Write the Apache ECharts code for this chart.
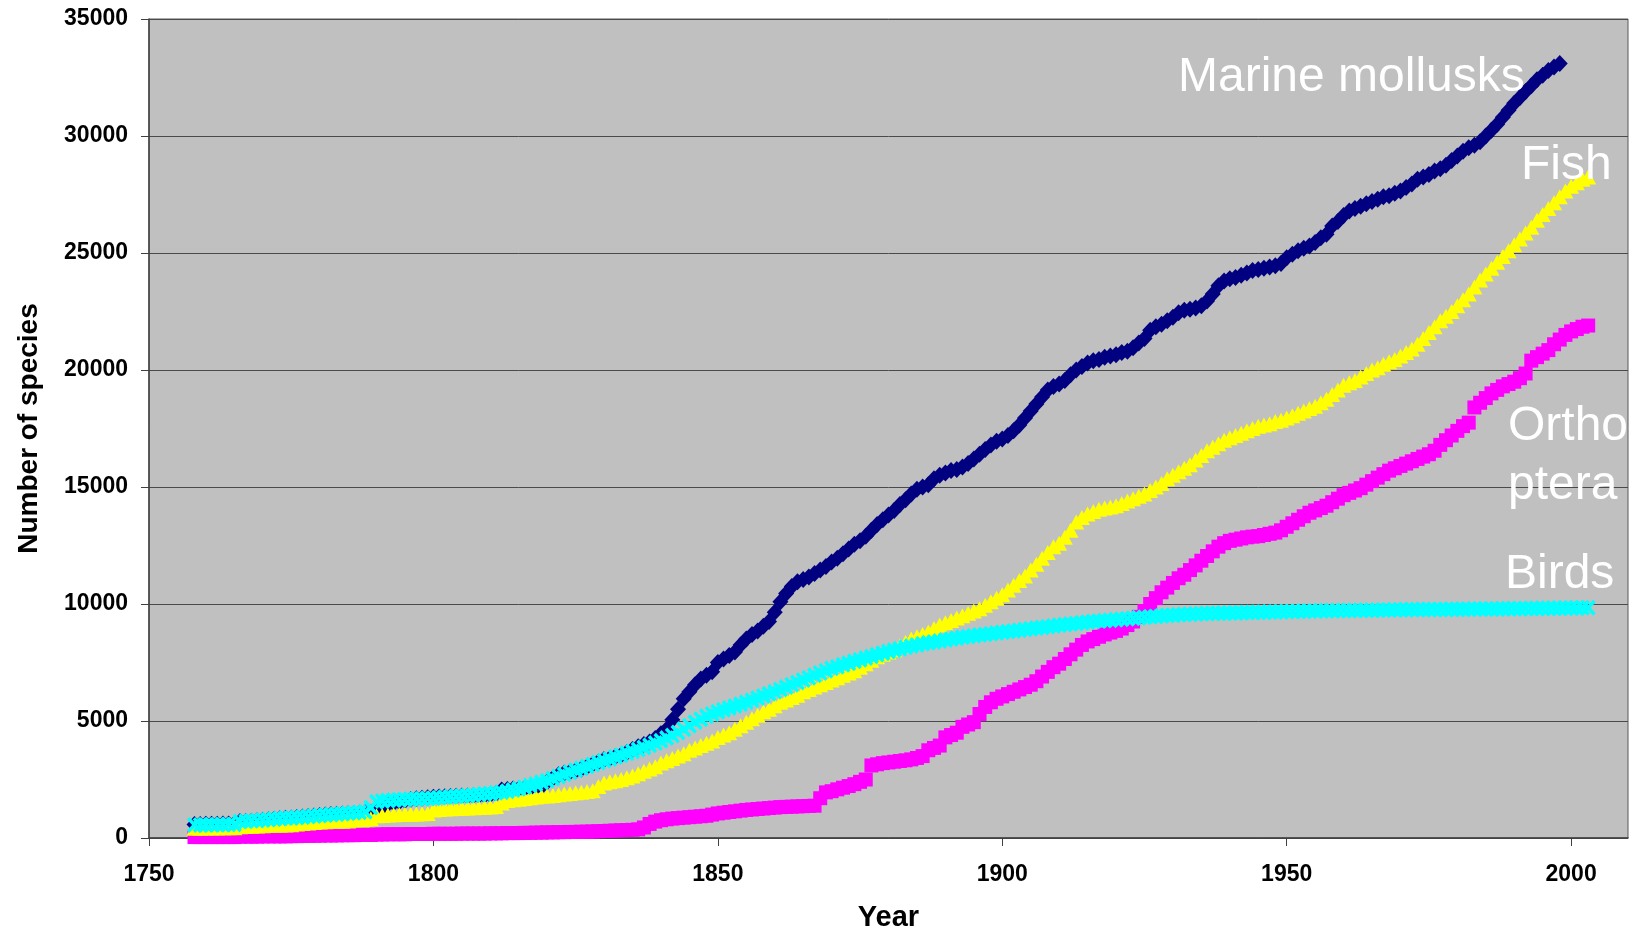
<!DOCTYPE html>
<html>
<head>
<meta charset="utf-8">
<title>Number of species described per year</title>
<script src="https://cdn.jsdelivr.net/npm/echarts@6/dist/echarts.min.js"></script>
<style>
  html, body { margin: 0; padding: 0; background: #ffffff; }
  #chart { width: 1632px; height: 934px; }
</style>
</head>
<body>
<div id="chart"></div>
<script>
// Cumulative number of described species, one value per year.
const molluskStartYear = 1758;
const molluskCounts = [
  580, 580, 590, 590, 590, 600, 600, 600,                            // 1758-1765
  700, 710, 720, 740,                                                // 1766-1769
  760, 780, 800, 820, 840, 860, 880, 900, 920, 940,                  // 1770s
  960, 980, 1000, 1010, 1030, 1040, 1050, 1070, 1080, 1100,          // 1780s
  1120, 1150, 1450, 1500, 1550, 1600, 1640, 1680, 1700, 1720,        // 1790s
  1740, 1750, 1760, 1770, 1780, 1790, 1800, 1810, 1820, 1830,        // 1800s
  1850, 1900, 2050, 2070, 2090, 2100, 2120, 2140, 2170, 2200,        // 1810s
  2400, 2550, 2700, 2780, 2820, 2870, 2950, 3050, 3150, 3250,        // 1820s
  3350, 3400, 3480, 3550, 3650, 3780, 3900, 4000, 4100, 4250,        // 1830s
  4450, 4650, 5050, 5500, 5950, 6250, 6550, 6800, 6950, 7100,        // 1840s
  7500, 7650, 7800, 7950, 8250, 8500, 8700, 8850, 9050, 9250,        // 1850s
  9650, 10100, 10450, 10750, 10950, 11050, 11150, 11300, 11450, 11600, // 1860s
  11800, 11950, 12150, 12350, 12550, 12700, 12900, 13150, 13400, 13600, // 1870s
  13800, 14000, 14250, 14450, 14700, 14900, 15000, 15100, 15350, 15500, // 1880s
  15600, 15700, 15750, 15850, 16000, 16200, 16400, 16600, 16800, 16950, // 1890s
  17050, 17200, 17400, 17650, 17950, 18250, 18550, 18850, 19150, 19300, // 1900s
  19400, 19550, 19800, 20000, 20150, 20300, 20400, 20450, 20550, 20600, // 1910s
  20650, 20750, 20800, 20950, 21150, 21350, 21700, 21850, 21950, 22100, // 1920s
  22250, 22450, 22550, 22600, 22650, 22750, 22950, 23250, 23600, 23800, // 1930s
  23900, 23950, 24050, 24150, 24250, 24300, 24350, 24400, 24450, 24550, // 1940s
  24800, 24950, 25100, 25200, 25300, 25450, 25650, 25800, 26150, 26350, // 1950s
  26600, 26800, 26900, 27000, 27100, 27200, 27300, 27400, 27450, 27550, // 1960s
  27650, 27800, 27950, 28150, 28250, 28350, 28500, 28600, 28750, 28950, // 1970s
  29150, 29350, 29500, 29600, 29750, 30000, 30250, 30500, 30800, 31100, // 1980s
  31400, 31650, 31900, 32150, 32400, 32600, 32800, 32950, 33100         // 1990-1998
];

const fishStartYear = 1758;
const fishCounts = [
  420, 420, 430, 430, 430, 440, 440, 440,                            // 1758-1765
  480, 490, 500, 510,                                                // 1766-1769
  520, 530, 540, 550, 560, 570, 600, 620, 640, 660,                  // 1770s
  680, 690, 700, 710, 720, 730, 780, 790, 800, 820,                  // 1780s
  950, 960, 980, 990, 1000, 1010, 1020, 1030, 1040, 1050,            // 1790s
  1200, 1220, 1240, 1250, 1260, 1270, 1280, 1290, 1300, 1310,        // 1800s
  1330, 1350, 1500, 1600, 1630, 1660, 1690, 1720, 1750, 1780,        // 1810s
  1800, 1820, 1850, 1880, 1900, 1930, 1960, 1990, 2020, 2200,        // 1820s
  2350, 2400, 2450, 2500, 2580, 2650, 2750, 2850, 2950, 3050,        // 1830s
  3200, 3300, 3400, 3500, 3600, 3750, 3850, 3950, 4050, 4150,        // 1840s
  4300, 4400, 4500, 4650, 4800, 4950, 5100, 5250, 5400, 5500,        // 1850s
  5650, 5800, 5900, 6000, 6100, 6250, 6350, 6450, 6550, 6650,        // 1860s
  6750, 6850, 6950, 7050, 7150, 7300, 7450, 7600, 7750, 7850,        // 1870s
  7950, 8050, 8200, 8350, 8500, 8600, 8700, 8800, 8950, 9100,        // 1880s
  9200, 9300, 9400, 9500, 9600, 9700, 9800, 9950, 10100, 10250,      // 1890s
  10400, 10600, 10800, 11000, 11200, 11450, 11700, 11950, 12200, 12450, // 1900s
  12600, 12850, 13150, 13500, 13700, 13850, 13950, 14050, 14100, 14150, // 1910s
  14200, 14300, 14400, 14500, 14600, 14700, 14850, 15000, 15150, 15350, // 1920s
  15500, 15650, 15800, 15950, 16150, 16350, 16550, 16700, 16850, 17000, // 1930s
  17100, 17200, 17300, 17400, 17500, 17600, 17650, 17700, 17800, 17850, // 1940s
  17950, 18050, 18150, 18250, 18350, 18450, 18600, 18750, 18950, 19150, // 1950s
  19350, 19450, 19550, 19700, 19850, 20000, 20100, 20250, 20350, 20450, // 1960s
  20600, 20750, 20900, 21100, 21350, 21600, 21850, 22100, 22300, 22500, // 1970s
  22750, 23000, 23250, 23550, 23850, 24100, 24350, 24600, 24850, 25100, // 1980s
  25350, 25600, 25850, 26100, 26400, 26650, 26900, 27150, 27400, 27650, // 1990s
  27850, 28000, 28150, 28250                                            // 2000-2003
];

const orthopteraStartYear = 1758;
const orthopteraCounts = [
  40, 40, 40, 40, 40, 40, 40, 40,                                    // 1758-1765
  60, 60, 60, 60,                                                    // 1766-1769
  70, 70, 70, 70, 70, 80, 80, 90, 90, 100,                           // 1770s
  100, 110, 110, 110, 120, 120, 120, 130, 130, 130,                  // 1780s
  150, 150, 160, 160, 160, 160, 170, 170, 170, 170,                  // 1790s
  180, 180, 180, 180, 180, 190, 190, 190, 190, 190,                  // 1800s
  200, 200, 200, 210, 210, 210, 220, 220, 230, 230,                  // 1810s
  240, 240, 250, 250, 260, 260, 270, 270, 280, 290,                  // 1820s
  300, 310, 320, 330, 340, 350, 370, 450, 600, 700,                  // 1830s
  760, 800, 830, 850, 870, 890, 910, 930, 950, 1000,                 // 1840s
  1050, 1080, 1110, 1140, 1170, 1200, 1220, 1240, 1260, 1280,        // 1850s
  1300, 1320, 1330, 1340, 1350, 1360, 1370, 1380, 1700, 1950,        // 1860s
  2000, 2080, 2150, 2220, 2300, 2400, 2500, 3100, 3150, 3200,        // 1870s
  3230, 3260, 3290, 3320, 3360, 3420, 3500, 3750, 3850, 3950,        // 1880s
  4300, 4400, 4500, 4750, 4850, 4950, 5300, 5600, 5800, 5950,        // 1890s
  6050, 6150, 6250, 6350, 6450, 6550, 6700, 6900, 7100, 7300,        // 1900s
  7450, 7650, 7850, 8050, 8250, 8400, 8500, 8600, 8700, 8780,        // 1910s
  8850, 8950, 9100, 9250, 9450, 9700, 10000, 10250, 10500, 10700,    // 1920s
  10900, 11100, 11250, 11450, 11650, 11850, 12050, 12250, 12450, 12600, // 1930s
  12700, 12750, 12800, 12850, 12880, 12900, 12950, 13000, 13050, 13150, // 1940s
  13300, 13450, 13600, 13750, 13900, 14000, 14100, 14200, 14350, 14500, // 1950s
  14650, 14750, 14850, 14950, 15100, 15250, 15400, 15550, 15700, 15800, // 1960s
  15900, 16000, 16100, 16200, 16300, 16400, 16550, 16800, 17000, 17200, // 1970s
  17400, 17600, 17750, 18400, 18600, 18800, 19000, 19150, 19300, 19400, // 1980s
  19500, 19650, 19850, 20400, 20550, 20700, 20850, 21100, 21300, 21500, // 1990s
  21650, 21750, 21850, 21900                                            // 2000-2003
];

const birdStartYear = 1758;
const birdCounts = [
  560, 560, 560, 570, 570, 570, 580, 580,                            // 1758-1765
  700, 720, 740, 750,                                                // 1766-1769
  770, 790, 810, 830, 850, 860, 880, 900, 920, 940,                  // 1770s
  960, 980, 1000, 1020, 1040, 1060, 1080, 1100, 1120, 1300,          // 1780s
  1550, 1580, 1600, 1620, 1630, 1650, 1660, 1670, 1680, 1690,        // 1790s
  1700, 1720, 1740, 1760, 1780, 1790, 1810, 1830, 1860, 1880,        // 1800s
  1900, 1930, 1960, 2000, 2050, 2100, 2170, 2240, 2310, 2380,        // 1810s
  2450, 2540, 2630, 2720, 2810, 2900, 2980, 3060, 3140, 3220,        // 1820s
  3300, 3380, 3460, 3540, 3620, 3700, 3780, 3870, 3960, 4060,        // 1830s
  4160, 4270, 4380, 4510, 4650, 4800, 4950, 5080, 5200, 5300,        // 1840s
  5400, 5480, 5560, 5640, 5720, 5800, 5890, 5980, 6070, 6160,        // 1850s
  6250, 6350, 6450, 6550, 6650, 6750, 6850, 6950, 7050, 7150,        // 1860s
  7250, 7320, 7400, 7470, 7550, 7620, 7690, 7760, 7830, 7900,        // 1870s
  7970, 8030, 8090, 8150, 8200, 8250, 8300, 8340, 8380, 8420,        // 1880s
  8460, 8500, 8540, 8580, 8610, 8640, 8670, 8700, 8730, 8760,        // 1890s
  8790, 8820, 8850, 8880, 8910, 8940, 8970, 9000, 9030, 9060,        // 1900s
  9090, 9120, 9150, 9170, 9200, 9230, 9250, 9270, 9290, 9310,        // 1910s
  9330, 9350, 9370, 9390, 9410, 9430, 9450, 9470, 9490, 9510,        // 1920s
  9520, 9540, 9550, 9560, 9570, 9580, 9590, 9600, 9610, 9610,        // 1930s
  9620, 9620, 9630, 9640, 9640, 9650, 9650, 9660, 9660, 9670,        // 1940s
  9680, 9680, 9690, 9690, 9700, 9700, 9710, 9710, 9710, 9720,        // 1950s
  9720, 9720, 9730, 9730, 9730, 9730, 9740, 9740, 9740, 9750,        // 1960s
  9750, 9750, 9760, 9760, 9760, 9770, 9770, 9770, 9770, 9780,        // 1970s
  9780, 9780, 9780, 9790, 9790, 9790, 9790, 9790, 9800, 9800,        // 1980s
  9800, 9800, 9810, 9810, 9810, 9820, 9820, 9820, 9820, 9830,        // 1990s
  9830, 9830, 9840, 9840                                                // 2000-2003
];

const xTickYears = [1750, 1800, 1850, 1900, 1950, 2000];

function yearPairs(startYear, counts) {
  return counts.map(function (c, i) { return [startYear + i, c]; });
}

const FONT = '"Liberation Sans", Arial, Helvetica, sans-serif';
const crossSymbol = 'path://M0,1.6L1.6,0L5,3.4L8.4,0L10,1.6L6.6,5L10,8.4L8.4,10L5,6.6L1.6,10L0,8.4L3.4,5Z';

const chart = echarts.init(document.getElementById('chart'), null, { renderer: 'canvas' });

function markerSeries(name, data, symbol, size, color) {
  return {
    name: name,
    type: 'scatter',
    data: data,
    symbol: symbol,
    symbolSize: size,
    itemStyle: { color: color, opacity: 1 },
    emphasis: { disabled: true },
    silent: true,
    clip: false,
    animation: false
  };
}

function labelText(text, x, y) {
  return {
    type: 'text', x: x, y: y, silent: true, z: 10,
    style: { text: text, fill: '#ffffff', font: '48px ' + FONT, align: 'left', verticalAlign: 'middle' }
  };
}

chart.setOption({
  animation: false,
  backgroundColor: '#ffffff',
  grid: {
    left: 149, top: 19, right: 4, bottom: 96,
    show: true,
    backgroundColor: '#C0C0C0',
    borderColor: '#5a5a5a',
    borderWidth: 1,
    containLabel: false,
    outerBoundsMode: 'none'
  },
  xAxis: {
    type: 'value',
    min: 1750,
    max: 2010,
    interval: 50,
    name: 'Year',
    nameLocation: 'middle',
    nameGap: 65,
    nameTextStyle: { fontFamily: FONT, fontSize: 29, fontWeight: 'bold', color: '#000' },
    axisLine: { show: true, onZero: false, lineStyle: { color: '#404040', width: 1.5 } },
    axisTick: { show: true, length: 8, customValues: xTickYears, lineStyle: { color: '#404040', width: 1 } },
    axisLabel: {
      customValues: xTickYears,
      margin: 25,
      fontFamily: FONT, fontSize: 23, fontWeight: 'bold', color: '#000',
      formatter: function (v) { return String(v); }
    },
    splitLine: { show: false }
  },
  yAxis: {
    type: 'value',
    min: 0,
    max: 35000,
    interval: 5000,
    name: 'Number of species',
    nameLocation: 'middle',
    nameGap: 106,
    nameTextStyle: { fontFamily: FONT, fontSize: 28, fontWeight: 'bold', color: '#000' },
    axisLine: { show: true, lineStyle: { color: '#404040', width: 1.5 } },
    axisTick: { show: true, length: 8, lineStyle: { color: '#404040', width: 1 } },
    axisLabel: {
      margin: 21,
      fontFamily: FONT, fontSize: 23, fontWeight: 'bold', color: '#000',
      formatter: function (v) { return String(v); }
    },
    splitLine: { show: true, lineStyle: { color: '#4a4a4a', width: 1 } }
  },
  series: [
    markerSeries('Marine mollusks', yearPairs(molluskStartYear, molluskCounts), 'diamond', [16, 17], '#000080'),
    markerSeries('Orthoptera', yearPairs(orthopteraStartYear, orthopteraCounts), 'rect', 14, '#FF00FF'),
    markerSeries('Fish', yearPairs(fishStartYear, fishCounts), 'triangle', [16, 15], '#FFFF00'),
    markerSeries('Birds', yearPairs(birdStartYear, birdCounts), crossSymbol, [15, 16], '#00FFFF')
  ],
  graphic: [
    labelText('Marine mollusks', 1178, 78),
    labelText('Fish', 1521, 166),
    labelText('Ortho', 1508, 427),
    labelText('ptera', 1508, 486),
    labelText('Birds', 1505, 575)
  ]
});
</script>
</body>
</html>
